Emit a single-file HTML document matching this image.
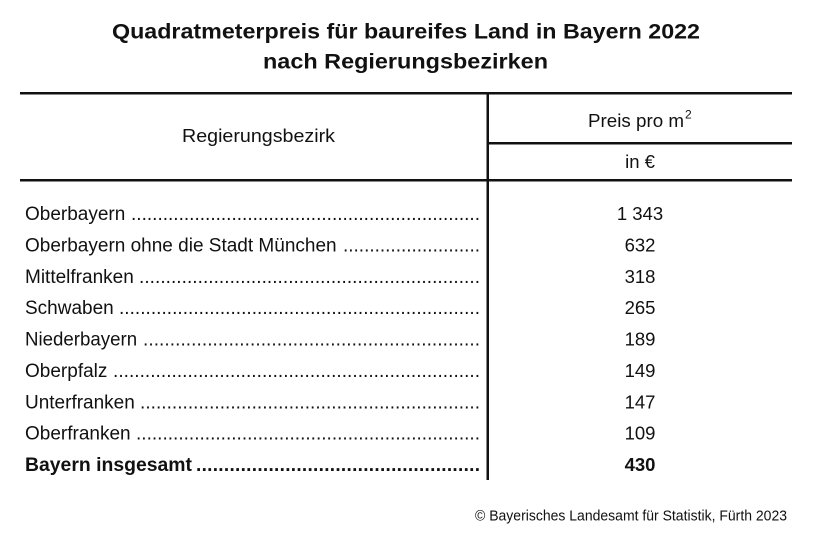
<!DOCTYPE html>
<html><head><meta charset="utf-8"><style>
html,body{margin:0;padding:0;background:#fff;}
svg{display:block;}
text{font-family:"Liberation Sans",Arial,sans-serif;fill:#111;}
</style></head><body>
<svg width="814" height="540" viewBox="0 0 814 540" xmlns="http://www.w3.org/2000/svg">
<rect width="814" height="540" fill="#fff"/>
<text x="406" y="38.5" font-size="21.5" font-weight="bold" text-anchor="middle" textLength="588" lengthAdjust="spacingAndGlyphs">Quadratmeterpreis für baureifes Land in Bayern 2022</text>
<text x="405.5" y="68.5" font-size="21.5" font-weight="bold" text-anchor="middle" textLength="285" lengthAdjust="spacingAndGlyphs">nach Regierungsbezirken</text>

<rect x="20" y="92" width="772" height="2.5" fill="#111"/>
<rect x="20" y="179" width="772" height="2.5" fill="#111"/>
<rect x="487" y="142" width="305" height="2.5" fill="#111"/>
<rect x="486.5" y="92" width="2.5" height="388" fill="#111"/>

<text x="258.5" y="142" font-size="18.5" text-anchor="middle" textLength="153" lengthAdjust="spacingAndGlyphs">Regierungsbezirk</text>
<text x="588" y="127" font-size="18.5" textLength="96" lengthAdjust="spacingAndGlyphs">Preis pro m</text>
<text x="685" y="118.5" font-size="12">2</text>
<text x="640" y="168" font-size="18.5" text-anchor="middle">in €</text>

<g font-size="19">
<text x="25" y="220" textLength="100.3" lengthAdjust="spacingAndGlyphs">Oberbayern</text>
<text x="131" y="220" textLength="349" lengthAdjust="spacing">..................................................................</text>
<text x="25" y="251.4" textLength="311.6" lengthAdjust="spacingAndGlyphs">Oberbayern ohne die Stadt München</text>
<text x="343" y="251.4" textLength="137" lengthAdjust="spacing">..........................</text>
<text x="25" y="282.75" textLength="108.8" lengthAdjust="spacingAndGlyphs">Mittelfranken</text>
<text x="139" y="282.75" textLength="341" lengthAdjust="spacing">................................................................</text>
<text x="25" y="314.1" textLength="88.7" lengthAdjust="spacingAndGlyphs">Schwaben</text>
<text x="119" y="314.1" textLength="361" lengthAdjust="spacing">....................................................................</text>
<text x="25" y="345.5" textLength="112.1" lengthAdjust="spacingAndGlyphs">Niederbayern</text>
<text x="143" y="345.5" textLength="337" lengthAdjust="spacing">...............................................................</text>
<text x="25" y="376.9" textLength="82.4" lengthAdjust="spacingAndGlyphs">Oberpfalz</text>
<text x="113" y="376.9" textLength="367" lengthAdjust="spacing">.....................................................................</text>
<text x="25" y="408.25" textLength="109.8" lengthAdjust="spacingAndGlyphs">Unterfranken</text>
<text x="140" y="408.25" textLength="340" lengthAdjust="spacing">................................................................</text>
<text x="25" y="439.6" textLength="105.6" lengthAdjust="spacingAndGlyphs">Oberfranken</text>
<text x="136" y="439.6" textLength="344" lengthAdjust="spacing">.................................................................</text>
<text x="25" y="471" font-weight="bold" textLength="167" lengthAdjust="spacingAndGlyphs">Bayern insgesamt</text>
<text x="196" y="471" font-weight="bold" textLength="284" lengthAdjust="spacing">...................................................</text>
</g>

<g font-size="18.5" text-anchor="middle">
<text x="640" y="220">1 343</text>
<text x="640" y="251.4">632</text>
<text x="640" y="282.75">318</text>
<text x="640" y="314.1">265</text>
<text x="640" y="345.5">189</text>
<text x="640" y="376.9">149</text>
<text x="640" y="408.25">147</text>
<text x="640" y="439.6">109</text>
<text x="640" y="471" font-weight="bold">430</text>
</g>

<text x="475" y="520.5" font-size="14.5" textLength="312" lengthAdjust="spacingAndGlyphs">© Bayerisches Landesamt für Statistik, Fürth 2023</text>
</svg>
</body></html>
